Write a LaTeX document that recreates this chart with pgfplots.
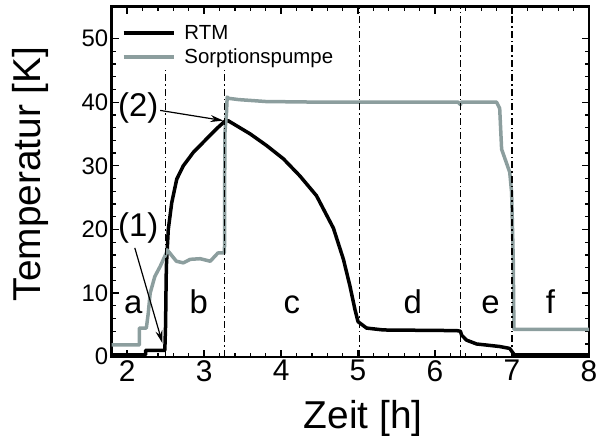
\documentclass[border=0pt]{standalone}
\usepackage{fontspec}
\setmainfont{Liberation Sans}
\usepackage{pgfplots}
\pgfplotsset{compat=1.18}
\usetikzlibrary{arrows.meta}
\definecolor{sorp}{RGB}{140,158,158}
\begin{document}
\begin{tikzpicture}
\begin{axis}[
  name=ax,
  scale only axis,
  width=477.3bp, height=350bp,
  xmin=1.8, xmax=8, ymin=0, ymax=55,
  xtick={2,...,8}, ytick={0,10,...,50},
  minor x tick num=4, minor y tick num=4,
  tick align=inside,
  major tick length=7bp, minor tick length=4bp,
  tick style={black, line width=1.3bp},
  axis line style={line width=2.4bp},
  /pgf/number format/assume math mode=true,
  x tick label style={font=\fontsize{30}{36}\selectfont},
  y tick label style={font=\fontsize{24}{29}\selectfont},
  xlabel={Zeit [h]}, ylabel={Temperatur [K]},
  label style={font=\fontsize{39}{47}\selectfont},
  xlabel style={at={(axis description cs:0.527,-0.204)}, anchor=base},
  ylabel style={at={(axis description cs:-0.171,0.522)}, anchor=center},
  legend style={draw=none, fill=none, at={(axis description cs:0.021,0.95)}, anchor=north west,
    font=\fontsize{20.5}{24}\selectfont, inner sep=0pt, row sep=6bp, nodes={inner sep=1bp},
    /tikz/every odd column/.append style={column sep=8bp}},
  legend image code/.code={\draw[#1] (0bp,0bp) -- (50bp,0bp);},
  legend cell align=left,
]
\addplot[black, line width=3.5bp, line join=round] coordinates {
(1.8,0.3) (2.24,0.3) (2.24,1.0) (2.49,1.0) (2.50,5) (2.505,10) (2.51,14.2) (2.535,20) (2.58,24.2)
(2.645,27.9) (2.73,30.0) (2.86,32.1) (3.03,34.2) (3.16,35.8) (3.27,37.0) (3.31,37.1) (3.38,36.6)
(3.60,35.0) (3.81,33.2) (4.03,31.1) (4.245,28.4) (4.46,25.3) (4.68,20.2) (4.81,15.3) (4.895,11.1)
(4.96,7.4) (5.00,5.5) (5.11,4.5) (5.33,4.2) (6.28,4.1) (6.33,4.0) (6.345,3.4) (6.41,2.6) (6.54,2.0)
(6.84,1.6) (6.97,1.3) (7.03,0.3) (8,0.3)
};
\addlegendentry{RTM}
\addplot[sorp, line width=3.5bp, line join=round] coordinates {
(1.8,1.85) (2.16,1.85) (2.16,4.5) (2.25,4.5) (2.275,6.85) (2.30,10.0) (2.36,12.6) (2.43,14.2)
(2.51,16.3) (2.52,16.8) (2.64,15.0) (2.73,14.75) (2.82,15.3) (2.95,15.4) (3.08,15.0) (3.18,16.3)
(3.265,16.3) (3.27,35) (3.285,37.5) (3.29,38) (3.30,40.8) (3.32,40.6) (3.45,40.4) (3.8,40.1)
(4.5,40.0) (6.30,40.0) (6.33,39.6) (6.34,40.0) (6.80,40.0) (6.84,39.0) (6.865,32.6) (6.97,29.0)
(6.995,25.8) (7.016,15.3) (7.025,4.3) (8,4.3)
};
\addlegendentry{Sorptionspumpe}
\addplot[forget plot, black, line width=1.1bp, dash pattern=on 7bp off 3bp on 1.5bp off 3bp] coordinates {(2.5,0) (2.5,45)};
\addplot[forget plot, black, line width=1.1bp, dash pattern=on 7bp off 3bp on 1.5bp off 3bp] coordinates {(3.27,0) (3.27,45)};
\addplot[forget plot, black, line width=1.1bp, dash pattern=on 7bp off 3bp on 1.5bp off 3bp] coordinates {(5.02,0) (5.02,55)};
\addplot[forget plot, black, line width=1.1bp, dash pattern=on 7bp off 3bp on 1.5bp off 3bp] coordinates {(6.33,0) (6.33,55)};
\addplot[forget plot, black, line width=1.1bp, dash pattern=on 7bp off 3bp on 1.5bp off 3bp] coordinates {(7.0,0) (7.0,55)};
\node[font=\fontsize{33}{40}\selectfont, anchor=base] at (axis cs:2.08,6.8) {a};
\node[font=\fontsize{33}{40}\selectfont, anchor=base] at (axis cs:2.93,6.8) {b};
\node[font=\fontsize{33}{40}\selectfont, anchor=base] at (axis cs:4.14,6.8) {c};
\node[font=\fontsize{33}{40}\selectfont, anchor=base] at (axis cs:5.71,6.8) {d};
\node[font=\fontsize{33}{40}\selectfont, anchor=base] at (axis cs:6.72,6.8) {e};
\node[font=\fontsize{33}{40}\selectfont, anchor=base] at (axis cs:7.5,6.8) {f};
\node[font=\fontsize{33}{40}\selectfont, inner sep=0pt] at (axis cs:2.146,20.3) {(1)};
\node[font=\fontsize{33}{40}\selectfont, inner sep=0pt] at (axis cs:2.146,39.1) {(2)};
\draw[line width=1.2bp, -{Stealth[length=13bp,width=7bp]}] (axis cs:2.10,17.1) -- (axis cs:2.46,2.1);
\draw[line width=1.2bp, -{Stealth[length=13bp,width=7bp]}] (axis cs:2.43,38.7) -- (axis cs:3.25,37.1);
\end{axis}
\pgfresetboundingbox
\path ([shift={(-111.7bp,-79.3bp)}]ax.south west) rectangle ([shift={(10bp,6.7bp)}]ax.north east);
\end{tikzpicture}
\end{document}
